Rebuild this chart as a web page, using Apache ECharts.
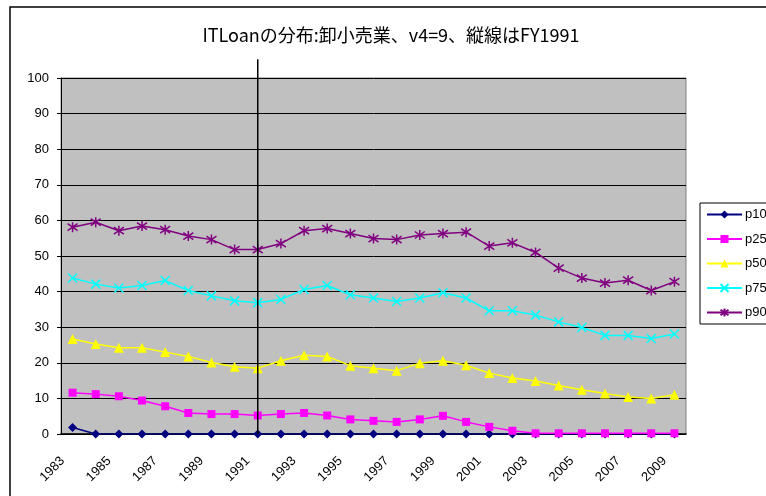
<!DOCTYPE html>
<html><head><meta charset="utf-8">
<script src="https://cdn.jsdelivr.net/npm/echarts@6/dist/echarts.min.js"></script>
<style>html,body{margin:0;padding:0;background:#fff}#c{width:766px;height:496px}</style>
</head><body><div id="c"></div>
<script>
const years = ['1983','1984','1985','1986','1987','1988','1989','1990','1991','1992','1993','1994','1995','1996','1997','1998','1999','2000','2001','2002','2003','2004','2005','2006','2007','2008','2009'];
const yTicks = [0,10,20,30,40,50,60,70,80,90,100];
const p10 = [1.8,0,0,0,0,0,0,0,0,0,0,0,0,0,0,0,0,0,0,0,0,0,0,0,0,0,0];
const p25 = [11.6,11.2,10.6,9.4,7.8,5.9,5.6,5.6,5.2,5.6,5.9,5.2,4.1,3.7,3.4,4.1,5.1,3.4,2.0,0.9,0.2,0.2,0.2,0.2,0.2,0.2,0.2];
const p50 = [26.7,25.3,24.2,24.2,23.0,21.8,20.1,18.9,18.5,20.6,22.1,21.8,19.2,18.5,17.8,19.9,20.6,19.3,17.1,15.7,14.9,13.6,12.4,11.4,10.4,10.0,11.0];
const p75 = [43.8,42.1,41.0,41.7,43.1,40.3,38.8,37.4,36.9,37.8,40.6,41.7,39.1,38.2,37.2,38.2,39.7,38.2,34.6,34.6,33.4,31.5,29.9,27.7,27.7,26.8,28.1];
const p90 = [58.1,59.5,57.1,58.4,57.4,55.6,54.6,51.8,51.8,53.5,57.1,57.7,56.3,54.9,54.6,55.9,56.3,56.7,52.8,53.7,51.0,46.6,43.8,42.4,43.2,40.3,42.8];
const markYear = '1991';

const chart = echarts.init(document.getElementById('c'));
const xMark = 'path://M0,0L10,10M10,0L0,10';
const star = 'path://M5,0L5,10M0.7,1.5L9.3,8.5M9.3,1.5L0.7,8.5';
function mk(name, data, color, symbol, size, stroke) {
  return {
    name, type: 'line', data, symbol, symbolSize: size, showSymbol: true,
    lineStyle: {color, width: 1.5},
    itemStyle: stroke ? {color: 'none', borderColor: color, borderWidth: 1.5} : {color, borderColor: color, borderWidth: 0},
    emphasis: {disabled: true}, animation: false
  };
}
chart.setOption({
  animation: false,
  title: {
    text: 'ITLoanの分布:卸小売業、v4=9、縦線はFY1991',
    left: 386, top: 21, textAlign: 'center',
    textStyle: {fontFamily: 'Noto Sans CJK JP', fontSize: 18, fontWeight: 'normal', color: '#000'}
  },
  grid: {left: 61, right: 80, top: 78, bottom: 62, show: true, backgroundColor: '#C0C0C0', borderColor: '#808080', borderWidth: 1},
  legend: {
    orient: 'vertical', left: 700, top: 203,
    data: ['p10','p25','p50','p75','p90'],
    itemWidth: 35, itemHeight: 10, itemGap: 11.5,
    padding: [5, 6, 5, 6],
    backgroundColor: '#fff', borderColor: '#000', borderWidth: 1,
    textStyle: {fontFamily: 'Liberation Sans', fontSize: 13, color: '#000', padding: [0,0,0,-2]},
    selectedMode: false
  },
  xAxis: {
    type: 'category', data: years, boundaryGap: true,
    axisLine: {lineStyle: {color: '#000', width: 1.5}},
    axisTick: {inside: true, length: 4, interval: 0, lineStyle: {color: '#000'}},
    axisLabel: {interval: 1, rotate: 45, fontFamily: 'Liberation Sans', fontSize: 13, color: '#000', margin: 15, padding: [0, 14, 0, 0]},
    splitLine: {show: false}
  },
  yAxis: {
    type: 'value', min: 0, max: 100, interval: 10,
    axisLine: {show: true, lineStyle: {color: '#000', width: 1}},
    axisTick: {show: true, length: 4, lineStyle: {color: '#000'}},
    axisLabel: {fontFamily: 'Liberation Sans', fontSize: 13, color: '#000', margin: 12,
      formatter: v => yTicks.includes(v) ? String(v) : ''},
    splitLine: {lineStyle: {color: '#000', width: 1}}
  },
  series: [
    mk('p10', p10, '#000080', 'diamond', 9, false),
    mk('p25', p25, '#FF00FF', 'rect', 8, false),
    mk('p50', p50, '#FFFF00', 'triangle', 10, false),
    mk('p75', p75, '#00FFFF', xMark, 9, true),
    mk('p90', p90, '#800080', star, 10, true)
  ]
});
const xPix = chart.convertToPixel({xAxisIndex: 0}, markYear);
const y0 = chart.convertToPixel({yAxisIndex: 0}, 0);
const yTop = chart.convertToPixel({yAxisIndex: 0}, 105.3);
chart.setOption({
  graphic: [
    {type: 'rect', shape: {x: 10, y: 7, width: 800, height: 560}, style: {fill: 'none', stroke: '#000', lineWidth: 1.5}, silent: true, z: 100},
    {type: 'line', shape: {x1: xPix, y1: yTop, x2: xPix, y2: y0}, style: {stroke: '#000', lineWidth: 1.5}, silent: true, z: 100}
  ]
});
</script></body></html>
